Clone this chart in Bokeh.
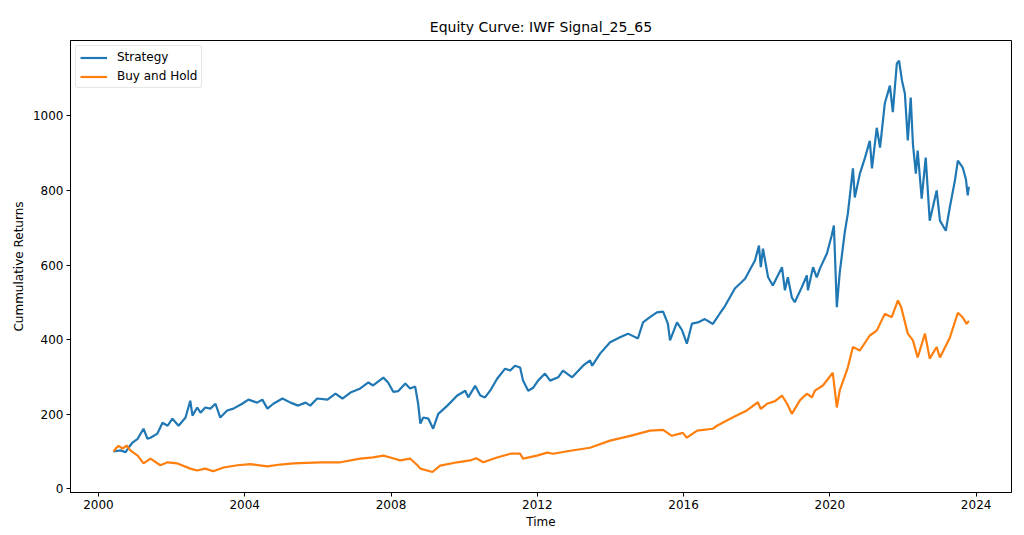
import pandas as pd
from bokeh.plotting import figure
from bokeh.models import Range1d, FixedTicker, DatetimeTickFormatter, NumeralTickFormatter
from bokeh.embed import file_html
from bokeh.resources import INLINE

# ---- data (time in fractional years) ----
strategy_time = [2000.41, 2000.60, 2000.74, 2000.82, 2000.93, 2001.07, 2001.23, 2001.34, 2001.42, 2001.61,
                 2001.75, 2001.89, 2002.02, 2002.19, 2002.38, 2002.51, 2002.57, 2002.70, 2002.79, 2002.92,
                 2003.06, 2003.20, 2003.33, 2003.52, 2003.69, 2003.93, 2004.10, 2004.34, 2004.48, 2004.62,
                 2004.78, 2005.03, 2005.25, 2005.46, 2005.66, 2005.79, 2005.98, 2006.26, 2006.48, 2006.67,
                 2006.89, 2007.16, 2007.38, 2007.51, 2007.79, 2007.92, 2008.06, 2008.20, 2008.39, 2008.52,
                 2008.66, 2008.74, 2008.80, 2008.88, 2009.02, 2009.15, 2009.29, 2009.54, 2009.81, 2010.03,
                 2010.11, 2010.30, 2010.44, 2010.57, 2010.71, 2010.90, 2011.12, 2011.26, 2011.39, 2011.53,
                 2011.61, 2011.75, 2011.89, 2012.02, 2012.21, 2012.35, 2012.57, 2012.70, 2012.95, 2013.25,
                 2013.44, 2013.50, 2013.72, 2013.99, 2014.26, 2014.48, 2014.75, 2014.89, 2015.08, 2015.27,
                 2015.44, 2015.57, 2015.63, 2015.82, 2015.96, 2016.09, 2016.23, 2016.39, 2016.58, 2016.80,
                 2016.99, 2017.13, 2017.40, 2017.68, 2017.95, 2018.06, 2018.11, 2018.17, 2018.31, 2018.44,
                 2018.69, 2018.77, 2018.85, 2018.96, 2019.04, 2019.23, 2019.37, 2019.40, 2019.54, 2019.64,
                 2019.73, 2019.92, 2020.05, 2020.11, 2020.19, 2020.27, 2020.41, 2020.49, 2020.63, 2020.68,
                 2020.82, 2020.96, 2021.09, 2021.15, 2021.28, 2021.37, 2021.50, 2021.64, 2021.72, 2021.83,
                 2021.89, 2021.97, 2022.05, 2022.13, 2022.21, 2022.27, 2022.35, 2022.40, 2022.51, 2022.62,
                 2022.73, 2022.92, 2023.01, 2023.17, 2023.28, 2023.42, 2023.50, 2023.63, 2023.72, 2023.77,
                 2023.80]
strategy_values = [100, 103, 98, 110, 124, 134, 161, 134, 137, 148,
                   177, 169, 188, 169, 191, 236, 196, 218, 204, 218,
                   215, 228, 191, 210, 215, 228, 239, 231, 239, 215,
                   228, 242, 231, 223, 231, 223, 242, 239, 255, 242,
                   258, 269, 285, 277, 298, 285, 260, 262, 282, 269,
                   274, 228, 175, 191, 188, 161, 201, 223, 250, 263,
                   245, 276, 250, 245, 263, 295, 322, 317, 330, 325,
                   290, 263, 271, 290, 309, 290, 299, 317, 299, 330,
                   344, 330, 363, 393, 406, 416, 403, 446, 460, 473,
                   475, 443, 398, 446, 425, 389, 443, 446, 455, 442,
                   470, 490, 537, 563, 612, 652, 594, 644, 567, 545,
                   594, 532, 567, 513, 500, 540, 572, 532, 594, 567,
                   591, 631, 679, 706, 487, 580, 690, 737, 859, 781,
                   845, 888, 933, 859, 968, 915, 1033, 1081, 1010, 1140,
                   1148, 1095, 1060, 934, 1049, 925, 845, 907, 778, 888,
                   719, 800, 719, 692, 755, 827, 880, 862, 830, 787,
                   810]

buyhold_time = [2000.41, 2000.49, 2000.55, 2000.66, 2000.77, 2000.87, 2001.07, 2001.23, 2001.42, 2001.69,
                2001.89, 2002.16, 2002.51, 2002.70, 2002.92, 2003.14, 2003.42, 2003.80, 2004.15, 2004.62,
                2004.97, 2005.33, 2006.07, 2006.61, 2007.16, 2007.51, 2007.79, 2007.98, 2008.25, 2008.52,
                2008.72, 2008.80, 2009.13, 2009.34, 2009.81, 2010.16, 2010.33, 2010.52, 2010.90, 2011.26,
                2011.53, 2011.61, 2011.99, 2012.27, 2012.43, 2012.90, 2013.44, 2013.99, 2014.54, 2015.08,
                2015.44, 2015.68, 2015.98, 2016.09, 2016.37, 2016.80, 2016.91, 2017.35, 2017.73, 2018.03,
                2018.11, 2018.28, 2018.50, 2018.69, 2018.83, 2018.96, 2019.18, 2019.37, 2019.51, 2019.59,
                2019.81, 2020.08, 2020.19, 2020.27, 2020.49, 2020.63, 2020.82, 2021.09, 2021.28, 2021.50,
                2021.69, 2021.86, 2021.95, 2022.13, 2022.27, 2022.40, 2022.60, 2022.73, 2022.92, 2023.01,
                2023.28, 2023.50, 2023.63, 2023.74, 2023.80]
buyhold_values = [100, 110, 115, 108, 116, 103, 89, 68, 81, 63,
                  71, 68, 54, 49, 54, 47, 57, 63, 66, 60,
                  65, 68, 71, 71, 81, 84, 89, 84, 76, 81,
                  63, 54, 45, 62, 71, 76, 82, 71, 84, 94,
                  94, 81, 89, 97, 94, 102, 110, 129, 142, 156,
                  158, 142, 150, 137, 156, 161, 169, 192, 210, 232,
                  214, 228, 235, 250, 228, 201, 237, 255, 245, 263,
                  277, 311, 218, 264, 325, 380, 371, 411, 424, 469,
                  460, 505, 487, 416, 398, 352, 416, 349, 380, 352,
                  405, 472, 460, 442, 450]

x_tick_years = [2000, 2004, 2008, 2012, 2016, 2020, 2024]
y_ticks = [0, 200, 400, 600, 800, 1000]


def to_datetime(years):
    out = []
    for y in years:
        base = pd.Timestamp(year=int(y), month=1, day=1)
        nxt = pd.Timestamp(year=int(y) + 1, month=1, day=1)
        out.append(base + (nxt - base) * (y - int(y)))
    return out


def ms(ts):
    return ts.value / 1e6


s_dt = to_datetime(strategy_time)
b_dt = to_datetime(buyhold_time)

FONT = "DejaVu Sans"

p = figure(width=1020, height=532, x_axis_type="datetime",
           output_backend="svg", toolbar_location=None,
           title="Equity Curve: IWF Signal_25_65",
           min_border_left=70, min_border_right=9, min_border_top=40, min_border_bottom=40)

p.x_range = Range1d(ms(to_datetime([1999.235])[0]), ms(to_datetime([2024.965])[0]))
p.y_range = Range1d(-10, 1202)

p.line(s_dt, strategy_values, color="#1f77b4", line_width=2.2, legend_label="Strategy")
p.line(b_dt, buyhold_values, color="#ff7f0e", line_width=2.2, legend_label="Buy and Hold")

# title
p.title.align = "center"
p.title.text_font = FONT
p.title.text_font_size = "14px"
p.title.text_font_style = "normal"
p.title.text_color = "black"
p.title.standoff = 12

# frame
p.outline_line_color = "black"
p.outline_line_width = 1
p.outline_line_alpha = 1
p.xgrid.visible = False
p.ygrid.visible = False
p.background_fill_color = "white"
p.border_fill_color = "white"

# axes
p.xaxis.ticker = FixedTicker(ticks=[ms(t) for t in to_datetime(x_tick_years)])
p.xaxis.formatter = DatetimeTickFormatter(years="%Y", months="%Y", days="%Y", hours="%Y",
                                          minutes="%Y", seconds="%Y", milliseconds="%Y")
p.yaxis.ticker = FixedTicker(ticks=y_ticks)
p.yaxis.formatter = NumeralTickFormatter(format="0")
p.xaxis.axis_label = "Time"
p.yaxis.axis_label = "Cummulative Returns"

for ax in (p.xaxis, p.yaxis):
    ax.axis_line_color = "black"
    ax.major_tick_line_color = "black"
    ax.major_tick_in = 0
    ax.major_tick_out = 4
    ax.minor_tick_line_color = None
    ax.major_label_text_font = FONT
    ax.major_label_text_font_size = "12px"
    ax.major_label_text_color = "black"
    ax.major_label_standoff = 3
    ax.axis_label_text_font = FONT
    ax.axis_label_text_font_size = "12px"
    ax.axis_label_text_font_style = "normal"
    ax.axis_label_text_color = "black"
p.xaxis.axis_label_standoff = 3
p.yaxis.axis_label_standoff = 4

# legend
lg = p.legend[0]
lg.location = "top_left"
lg.margin = 5
lg.label_text_font = FONT
lg.label_text_font_size = "12px"
lg.label_text_color = "black"
lg.glyph_width = 27
lg.glyph_height = 13
lg.label_height = 13
lg.label_standoff = 10
lg.spacing = 5
lg.padding = 4
lg.border_line_color = "#cccccc"
lg.border_line_width = 1
lg.background_fill_alpha = 0.8
lg.border_radius = 3

open("out.html", "w").write(file_html(p, INLINE))
